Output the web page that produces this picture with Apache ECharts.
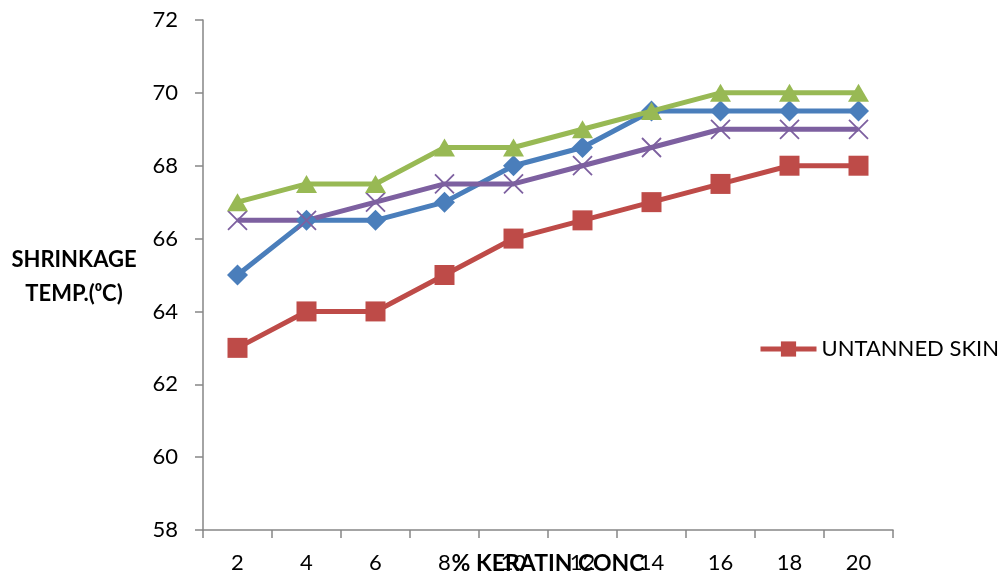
<!DOCTYPE html>
<html><head><meta charset="utf-8">
<script src="https://cdn.jsdelivr.net/npm/echarts@6/dist/echarts.min.js"></script>
<style>html,body{margin:0;padding:0;background:#fff}#c{width:1005px;height:583px}</style>
</head><body><div id="c"></div>
<script>
const categories = ['2','4','6','8','10','12','14','16','18','20'];
const blueValues = [65, 66.5, 66.5, 67, 68, 68.5, 69.5, 69.5, 69.5, 69.5];
const untannedValues = [63, 64, 64, 65, 66, 66.5, 67, 67.5, 68, 68];
const greenValues = [67, 67.5, 67.5, 68.5, 68.5, 69, 69.5, 70, 70, 70];
const purpleValues = [66.5, 66.5, 67, 67.5, 67.5, 68, 68.5, 69, 69, 69];
const yTicks = {min: 58, max: 72, interval: 2};
const yAxisTitle = 'SHRINKAGE\nTEMP.(⁰C)';
const xAxisTitle = '% KERATIN CONC';

const font = 'Lato, "Open Sans", sans-serif';
const chart = echarts.init(document.getElementById('c'));
chart.setOption({
  animation: false,
  grid: {left: 203, right: 112, top: 20, bottom: 53, containLabel: false, outerBoundsMode: 'none'},
  legend: {
    data: ['UNTANNED SKIN'], left: 758, top: 338, padding: 0, itemWidth: 56, itemHeight: 19, itemGap: 6,
    lineStyle: {width: 5},
    textStyle: {fontFamily: font, fontSize: 22, color: '#000'}
  },
  graphic: [{
    type: 'text', x: 74, y: 277,
    style: {text: yAxisTitle, fontFamily: font, fontSize: 22, fontWeight: 'bold', fill: '#000',
            align: 'center', verticalAlign: 'middle', lineHeight: 34}
  }],
  xAxis: {
    type: 'category', data: categories, boundaryGap: true,
    axisLine: {lineStyle: {color: '#868686', width: 1.5}},
    axisTick: {show: true, length: 8, lineStyle: {color: '#868686', width: 1.5}},
    axisLabel: {fontFamily: font, fontSize: 22, color: '#000', margin: 22},
    name: xAxisTitle, nameLocation: 'middle', nameGap: 22, nameMoveOverlap: false,
    nameTextStyle: {fontFamily: font, fontSize: 23, fontWeight: 'bold', color: '#000', verticalAlign: 'top'}
  },
  yAxis: {
    type: 'value', min: yTicks.min, max: yTicks.max, interval: yTicks.interval,
    splitLine: {show: false},
    axisLine: {show: true, lineStyle: {color: '#868686', width: 1.5}},
    axisTick: {show: true, length: 8, lineStyle: {color: '#868686', width: 1.5}},
    axisLabel: {fontFamily: font, fontSize: 22, color: '#000', margin: 25}
  },
  series: [
    {name: 'BLUE', type: 'line', data: blueValues, symbol: 'diamond', symbolSize: 21,
     lineStyle: {color: '#4A7EBB', width: 5}, itemStyle: {color: '#4A7EBB'}, z: 3},
    {name: 'UNTANNED SKIN', type: 'line', data: untannedValues, symbol: 'rect', symbolSize: 20,
     lineStyle: {color: '#BE4B48', width: 5}, itemStyle: {color: '#BE4B48'}, z: 2},
    {name: 'GREEN', type: 'line', data: greenValues, symbol: 'triangle', symbolSize: [21, 18],
     lineStyle: {color: '#98B954', width: 5}, itemStyle: {color: '#98B954'}, z: 4},
    {name: 'PURPLE', type: 'line', data: purpleValues,
     symbol: 'path://M0,0L10,10M10,0L0,10', symbolSize: 19,
     lineStyle: {color: '#7D60A0', width: 5},
     itemStyle: {color: 'none', borderColor: '#7D60A0', borderWidth: 1.8}, z: 3}
  ]
});
</script></body></html>
